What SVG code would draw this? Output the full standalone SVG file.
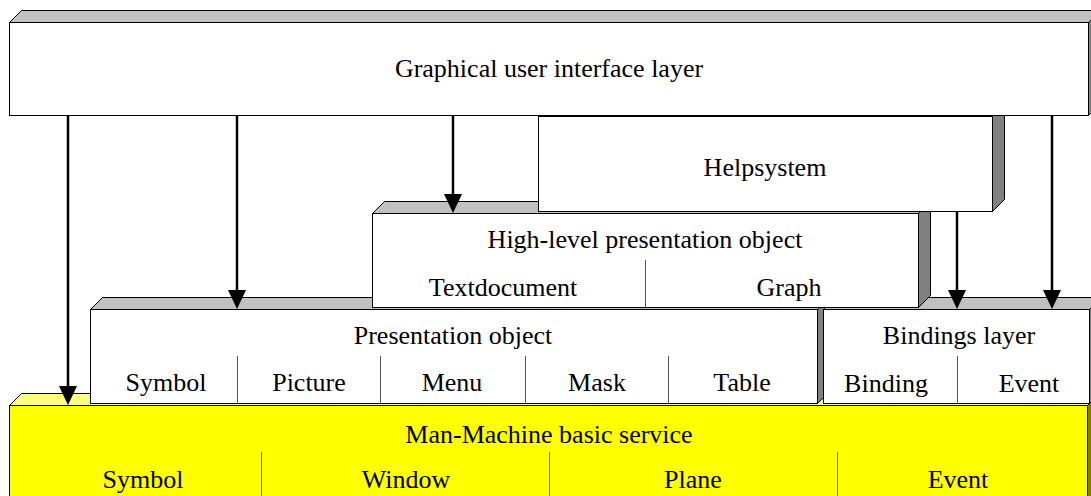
<svg xmlns="http://www.w3.org/2000/svg" width="1091" height="496" viewBox="0 0 1091 496">
<defs>
<style>
.front{fill:#ffffff;stroke:#000;stroke-width:1}
.top{fill:#c0c0c0;stroke:#000;stroke-width:1}
.side{fill:#808080;stroke:#000;stroke-width:1}
.yfront{fill:#ffff00;stroke:#000;stroke-width:1}
.ytop{fill:#ffff80;stroke:#000;stroke-width:1}
.yside{fill:#808000;stroke:#000;stroke-width:1}
.div{stroke:#555;stroke-width:1;fill:none}
.t{font-family:"Liberation Serif","Times New Roman",serif;font-size:26px;fill:#000;text-anchor:middle}
.arr{stroke:#000;stroke-width:2.5;fill:none}
.head{fill:#000}
</style>
</defs>
<rect width="1091" height="496" fill="#fff"/>

<g id="man-machine">
<polygon class="ytop" points="9.5,405.5 21.5,393.5 1099.5,393.5 1087.5,405.5"/>
<polygon class="yside" points="1087.5,405.5 1099.5,393.5 1099.5,500 1087.5,500"/>
<rect class="yfront" x="9.5" y="405.5" width="1078" height="100"/>
<line class="div" x1="261.5" y1="452" x2="261.5" y2="496"/>
<line class="div" x1="549.5" y1="452" x2="549.5" y2="496"/>
<line class="div" x1="837.5" y1="452" x2="837.5" y2="496"/>
<text class="t" x="549" y="443">Man-Machine basic service</text>
<text class="t" x="143" y="488">Symbol</text>
<text class="t" x="406" y="488">Window</text>
<text class="t" x="693" y="488">Plane</text>
<text class="t" x="958" y="488">Event</text>
</g>

<g id="presentation-object">
<polygon class="top" points="90.5,309.5 102.5,297.5 829.5,297.5 817.5,309.5"/>
<polygon class="side" points="817.5,309.5 829.5,297.5 829.5,391.5 817.5,403.5"/>
<rect class="front" x="90.5" y="309.5" width="727" height="94"/>
<line class="div" x1="237.5" y1="356" x2="237.5" y2="403"/>
<line class="div" x1="380.5" y1="356" x2="380.5" y2="403"/>
<line class="div" x1="525.5" y1="356" x2="525.5" y2="403"/>
<line class="div" x1="668.5" y1="356" x2="668.5" y2="403"/>
<text class="t" x="453" y="344">Presentation object</text>
<text class="t" x="166" y="391">Symbol</text>
<text class="t" x="309" y="391">Picture</text>
<text class="t" x="452" y="391">Menu</text>
<text class="t" x="597" y="391">Mask</text>
<text class="t" x="742" y="391">Table</text>
</g>

<g id="bindings-layer">
<polygon class="top" points="823.5,309.5 835.5,297.5 1101.5,297.5 1089.5,309.5"/>
<polygon class="side" points="1089.5,309.5 1101.5,297.5 1101.5,391.5 1089.5,403.5"/>
<rect class="front" x="823.5" y="309.5" width="266" height="94"/>
<line class="div" x1="957.5" y1="356" x2="957.5" y2="403"/>
<text class="t" x="959" y="344">Bindings layer</text>
<text class="t" x="886" y="392">Binding</text>
<text class="t" x="1029" y="392">Event</text>
</g>

<g id="high-level">
<polygon class="top" points="372.5,213.5 384.5,201.5 930.5,201.5 918.5,213.5"/>
<polygon class="side" points="918.5,213.5 930.5,201.5 930.5,295.5 918.5,307.5"/>
<rect class="front" x="372.5" y="213.5" width="546" height="94"/>
<line class="div" x1="645.5" y1="260" x2="645.5" y2="307"/>
<text class="t" x="645" y="248">High-level presentation object</text>
<text class="t" x="503" y="296">Textdocument</text>
<text class="t" x="789" y="296">Graph</text>
</g>

<g id="helpsystem">
<polygon class="top" points="538.5,116.5 550.5,104.5 1004.5,104.5 992.5,116.5"/>
<polygon class="side" points="992.5,116.5 1004.5,104.5 1004.5,199.5 992.5,211.5"/>
<rect class="front" x="538.5" y="116.5" width="454" height="95"/>
<text class="t" x="765" y="176">Helpsystem</text>
</g>

<g id="gui-layer">
<polygon class="top" points="9.5,22.5 21.5,10.5 1100.5,10.5 1088.5,22.5"/>
<polygon class="side" points="1088.5,22.5 1100.5,10.5 1100.5,103.5 1088.5,115.5"/>
<rect class="front" x="9.5" y="22.5" width="1079" height="93"/>
<text class="t" x="549" y="77">Graphical user interface layer</text>
</g>

<g id="connectors">
<line class="arr" x1="68" y1="116" x2="68" y2="390"/>
<polygon class="head" points="59,386 77,386 68,405"/>
<line class="arr" x1="237" y1="116" x2="237" y2="294"/>
<polygon class="head" points="228,290 246,290 237,309"/>
<line class="arr" x1="453" y1="116" x2="453" y2="198"/>
<polygon class="head" points="444,194 462,194 453,213"/>
<line class="arr" x1="957" y1="212" x2="957" y2="294"/>
<polygon class="head" points="948,290 966,290 957,309"/>
<line class="arr" x1="1052" y1="116" x2="1052" y2="294"/>
<polygon class="head" points="1043,290 1061,290 1052,309"/>
</g>
</svg>
